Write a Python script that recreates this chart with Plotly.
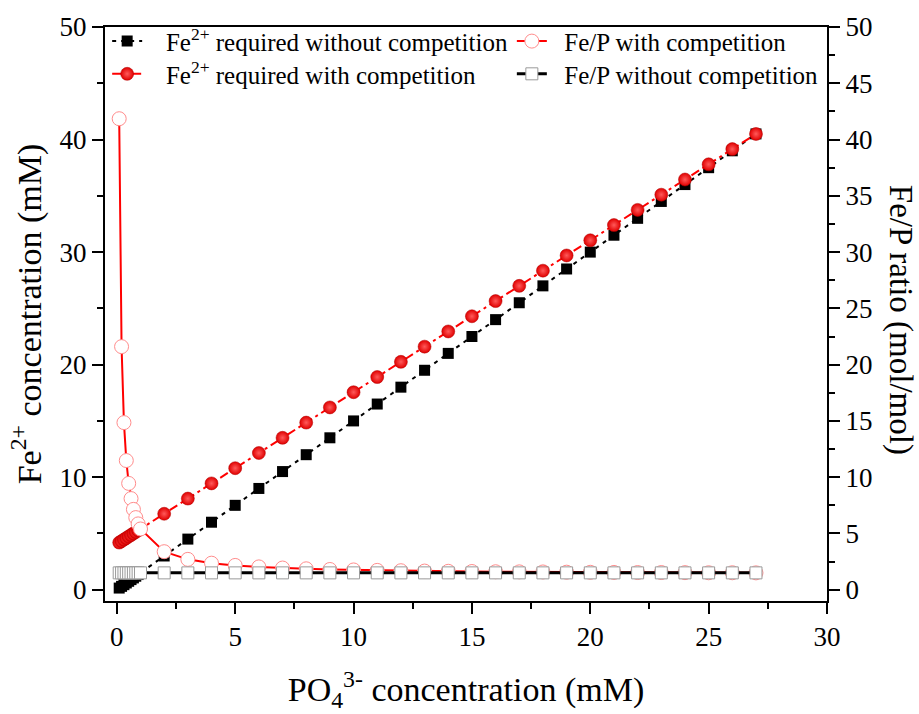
import plotly.graph_objects as go

# ---- data ----
po4 = [0.1, 0.2, 0.3, 0.4, 0.5, 0.6, 0.7, 0.8, 0.9, 1.0,
       2, 3, 4, 5, 6, 7, 8, 9, 10, 11, 12, 13, 14, 15, 16, 17, 18, 19, 20,
       21, 22, 23, 24, 25, 26, 27]
fe_without = [0.15, 0.30, 0.45, 0.60, 0.75, 0.90, 1.05, 1.20, 1.35, 1.50,
              3.0, 4.5, 6.0, 7.5, 9.0, 10.5, 12.0, 13.5, 15.0, 16.5, 18.0, 19.5,
              21.0, 22.5, 24.0, 25.5, 27.0, 28.5, 30.0, 31.5, 33.0, 34.5, 36.0,
              37.5, 39.0, 40.5]
fe_with = [4.19, 4.32, 4.46, 4.59, 4.73, 4.86, 5.00, 5.13, 5.27, 5.40,
           6.75, 8.10, 9.45, 10.80, 12.15, 13.50, 14.85, 16.20, 17.55, 18.90,
           20.25, 21.60, 22.95, 24.30, 25.65, 27.00, 28.35, 29.70, 31.05, 32.40,
           33.75, 35.10, 36.45, 37.80, 39.15, 40.50]
ratio_with = [41.85, 21.60, 14.85, 11.48, 9.45, 8.10, 7.14, 6.41, 5.85, 5.40,
              3.38, 2.70, 2.36, 2.16, 2.03, 1.93, 1.86, 1.80, 1.76, 1.72, 1.69,
              1.66, 1.64, 1.62, 1.60, 1.59, 1.58, 1.56, 1.55, 1.54, 1.53, 1.53,
              1.52, 1.51, 1.51, 1.50]
ratio_without = [1.5] * 36

names = ["\u00a0\u00a0\u00a0Fe<sup>2+</sup> required without competition",
         "\u00a0\u00a0\u00a0Fe<sup>2+</sup> required with competition",
         "\u00a0\u00a0Fe/P with competition",
         "\u00a0\u00a0Fe/P without competition"]

FONT = "Liberation Serif, Times New Roman, serif"

fig = go.Figure()

fig.add_trace(go.Scatter(
    x=po4, y=fe_without, name=names[0], mode="lines+markers",
    line=dict(color="black", width=2, dash="4px,5px"),
    marker=dict(symbol="square", size=11, color="black"),
    legend="legend"))
fig.add_trace(go.Scatter(
    x=po4, y=fe_with, name=names[1], mode="lines+markers",
    line=dict(color="#ff0000", width=2, dash="9px,4px,3px,4px"),
    marker=dict(symbol="circle", size=13, color="#e00000",
                gradient=dict(type="radial", color="#ff5a5a"),
                line=dict(color="#b00000", width=0.5)),
    legend="legend2"))
fig.add_trace(go.Scatter(
    x=po4, y=ratio_with, name=names[2], mode="lines+markers", yaxis="y2",
    line=dict(color="#ff0000", width=2),
    marker=dict(symbol="circle", size=14, color="white",
                line=dict(color="#ff8c8c", width=1)),
    legend="legend3"))
fig.add_trace(go.Scatter(
    x=po4, y=ratio_without, name=names[3], mode="lines+markers", yaxis="y2",
    line=dict(color="black", width=3),
    marker=dict(symbol="square", size=12, color="white",
                line=dict(color="#9a9a9a", width=1)),
    legend="legend4"))

tickfont = dict(family=FONT, size=27, color="black")
axcommon = dict(showline=True, linecolor="black", linewidth=2,
                ticks="outside", ticklen=11, tickwidth=2, tickcolor="black",
                showgrid=False, zeroline=False, tickfont=tickfont)

legfont = dict(family=FONT, size=25, color="black")
def leg(x, y):
    return dict(x=x, y=y, xref="paper", yref="paper", xanchor="left",
                yanchor="middle", bgcolor="rgba(0,0,0,0)", font=legfont,
                borderwidth=0, visible=True)

fig.update_layout(
    width=919, height=714,
    margin=dict(l=105, r=92, t=25, b=109),
    plot_bgcolor="white", paper_bgcolor="white",
    font=dict(family=FONT, color="black"),
    showlegend=True,
    xaxis=dict(range=[-0.5, 30], tickvals=[0, 5, 10, 15, 20, 25, 30],
               minor=dict(tickvals=[2.5, 7.5, 12.5, 17.5, 22.5, 27.5],
                          ticks="outside", ticklen=6, tickwidth=2,
                          tickcolor="black"),
               mirror=True,
               title=dict(text="PO<sub>4</sub><sup>3-</sup> concentration (mM)",
                          font=dict(family=FONT, size=34), standoff=26),
               **axcommon),
    yaxis=dict(range=[-1, 50], tickvals=[0, 10, 20, 30, 40, 50],
               minor=dict(tickvals=[5, 15, 25, 35, 45],
                          ticks="outside", ticklen=6, tickwidth=2,
                          tickcolor="black"),
               title=dict(text="Fe<sup>2+</sup> concentration (mM)",
                          font=dict(family=FONT, size=34), standoff=8),
               **axcommon),
    yaxis2=dict(range=[-1, 50], overlaying="y", side="right",
                tickvals=[0, 5, 10, 15, 20, 25, 30, 35, 40, 45, 50],
                minor=dict(tickvals=[2.5 + 5 * i for i in range(10)],
                           ticks="outside", ticklen=6, tickwidth=2,
                           tickcolor="black"),
                **axcommon),
    legend=leg(0.003, 0.975),
    legend2=leg(0.003, 0.918),
    legend3=leg(0.5635, 0.975),
    legend4=leg(0.5635, 0.918),
    annotations=[dict(text="Fe/P ratio (mol/mol)", textangle=90,
                      x=1.101, y=0.49, xref="paper", yref="paper",
                      xanchor="center", yanchor="middle",
                      showarrow=False,
                      font=dict(family=FONT, size=33, color="black"))],
)

fig.write_html("out.html")
